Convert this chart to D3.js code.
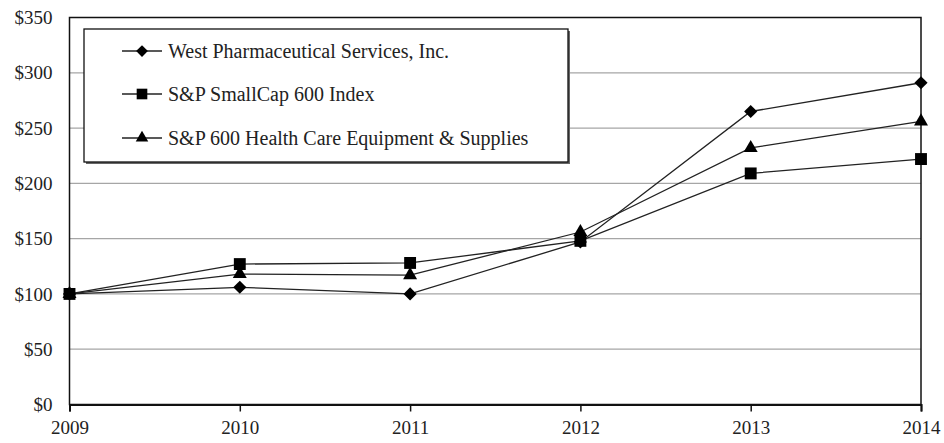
<!DOCTYPE html>
<html><head><meta charset="utf-8">
<script src="https://cdn.jsdelivr.net/npm/d3@7"></script>
<style>body{margin:0;background:#fff}svg{display:block}</style>
</head><body>
<svg id="c" width="944" height="443"></svg>
<script>
const years = [2009, 2010, 2011, 2012, 2013, 2014];
const westValues = [100, 106, 100, 147, 265, 291];
const smallCapValues = [100, 127, 128, 148, 209, 222];
const healthCareValues = [100, 118, 117, 156, 232, 256];
const seriesNames = ["West Pharmaceutical Services, Inc.", "S&P SmallCap 600 Index", "S&P 600 Health Care Equipment & Supplies"];
const yTicks = [0, 50, 100, 150, 200, 250, 300, 350];

const svg = d3.select("#c");
const L = 69.5, R = 921, T = 17.5, B = 404.5;
const x = d3.scalePoint().domain(years).range([L, R]);
const y = d3.scaleLinear().domain([0, 350]).range([B, T]);
const font = "'Liberation Serif', 'Times New Roman', serif";

// gridlines
svg.append("g").selectAll("line").data(yTicks.filter(d => d > 0 && d < 350)).join("line")
  .attr("x1", L).attr("x2", R).attr("y1", d => y(d)).attr("y2", d => y(d))
  .attr("stroke", "#a6a6a6").attr("stroke-width", 1.2);

// frame
svg.append("rect").attr("x", L).attr("y", T).attr("width", R - L).attr("height", B - T)
  .attr("fill", "none").attr("stroke", "#111").attr("stroke-width", 1.5);

// y axis labels
const yAxis = d3.axisLeft(y).tickValues(yTicks).tickSize(0).tickPadding(17).tickFormat(d => "$" + d);
const ya = svg.append("g").attr("transform", `translate(${L},0)`).call(yAxis);
ya.select(".domain").remove();
ya.selectAll("text").attr("font-family", font).attr("font-size", 19).attr("fill", "#222");

// x axis
const xAxis = d3.axisBottom(x).tickSize(7).tickPadding(9);
const xa = svg.append("g").attr("transform", `translate(0,${B})`).call(xAxis);
xa.select(".domain").attr("stroke", "#111").attr("stroke-width", 2);
xa.selectAll(".tick line").attr("stroke", "#111").attr("stroke-width", 1.5);
xa.selectAll("text").attr("font-family", font).attr("font-size", 19).attr("fill", "#222");

const series = [
  {name: seriesNames[0], values: westValues, sym: d3.symbolDiamond2, size: 110},
  {name: seriesNames[1], values: smallCapValues, sym: d3.symbolSquare2, size: 180},
  {name: seriesNames[2], values: healthCareValues, sym: d3.symbolTriangle2, size: 140}
];
const line = d3.line().x((d, i) => x(years[i])).y(d => y(d));

series.forEach(s => {
  svg.append("path").attr("d", line(s.values)).attr("fill", "none")
    .attr("stroke", "#222").attr("stroke-width", 1.3);
});
series.forEach(s => {
  svg.append("g").selectAll("path").data(s.values).join("path")
    .attr("transform", (d, i) => `translate(${x(years[i])},${y(d)})`)
    .attr("d", d3.symbol().type(s.sym).size(s.size)).attr("fill", "#000");
});

// legend
const lg = svg.append("g");
lg.append("rect").attr("x", 86).attr("y", 31).attr("width", 484).attr("height", 133).attr("fill", "#666");
lg.append("rect").attr("x", 84).attr("y", 29).attr("width", 484).attr("height", 133)
  .attr("fill", "#fff").attr("stroke", "#111").attr("stroke-width", 1.3);
const rowsY = [51, 94, 138];
series.forEach((s, i) => {
  const g = lg.append("g").attr("transform", `translate(0,${rowsY[i]})`);
  g.append("line").attr("x1", 122).attr("x2", 162).attr("y1", 0).attr("y2", 0).attr("stroke", "#222").attr("stroke-width", 1.3);
  g.append("path").attr("transform", "translate(142,0)").attr("d", d3.symbol().type(s.sym).size(s.size * 0.8)).attr("fill", "#000");
  g.append("text").attr("x", 168).attr("y", 7).attr("font-family", font).attr("font-size", 20).attr("fill", "#222").text(s.name);
});
</script>
</body></html>
